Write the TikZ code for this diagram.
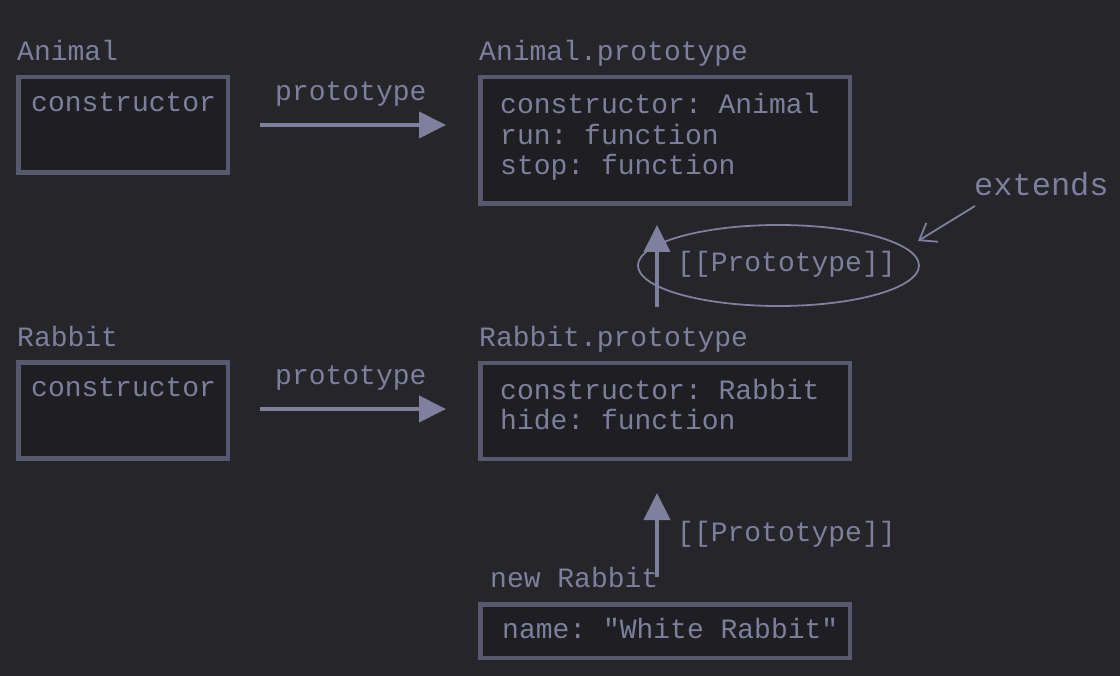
\documentclass[tikz,border=0pt]{standalone}
\usepackage{fontspec}
\setmonofont{Liberation Mono}
\usetikzlibrary{arrows.meta,shapes.geometric}
\definecolor{bg}{RGB}{37,37,42}
\definecolor{boxfill}{RGB}{31,31,35}
\definecolor{boxline}{RGB}{88,88,110}
\definecolor{txt}{RGB}{126,127,156}
\definecolor{arr}{RGB}{127,128,158}
\tikzset{
  box/.style={draw=boxline, fill=boxfill, line width=4.5pt, inner sep=0pt},
  lbl/.style={text=txt, anchor=base west, inner sep=0pt, font=\ttfamily\fontsize{28}{30}\selectfont},
  biglbl/.style={lbl, font=\ttfamily\fontsize{32}{34}\selectfont},
  bigarrow/.style={draw=arr, line width=4pt, -{Triangle[length=27pt,width=26pt]}},
  thinarrow/.style={draw=arr, line width=1.8pt, -{Straight Barb[length=15pt,width=22pt]}},
  ring/.style={draw=arr, line width=1.8pt, ellipse, inner sep=0pt}
}
\begin{document}
\begin{tikzpicture}[x=1pt,y=-1pt]
\fill[bg] (0,0) rectangle (1120,676);
\useasboundingbox (0,0) rectangle (1120,676);

% Animal row
\node[lbl] (lAnimal) at (17,61) {Animal};
\node[box, minimum width=209.5pt, minimum height=95.5pt] (b1) at (123,125) {};
\node[lbl] (t1) at (31,112) {constructor};
\node[lbl] (p1) at (275,101) {prototype};
\coordinate (a1s) at (260,125);
\coordinate (a1e) at (446,125);
\draw[bigarrow] (a1s) -- (a1e);

\node[lbl] (lAP) at (479,61) {Animal.prototype};
\node[box, minimum width=369.5pt, minimum height=126.5pt] (b2) at (665,140.5) {};
\node[lbl] (t2a) at (500,114) {constructor: Animal};
\node[lbl] (t2b) at (500,144.5) {run: function};
\node[lbl] (t2c) at (500,175) {stop: function};

% extends ellipse
\node[ring, minimum width=281pt, minimum height=81pt] (ell) at (778.5,265.5) {};
\node[lbl] (pp1) at (677,272) {[[Prototype]]};
\coordinate (v1s) at (657,307);
\coordinate (v1e) at (657,225);
\draw[bigarrow] (v1s) -- (v1e);
\node[biglbl] (ext) at (974,196) {extends};
\coordinate (e1s) at (975,206);
\coordinate (e1e) at (918,241);
\draw[thinarrow] (e1s) -- (e1e);

% Rabbit row
\node[lbl] (lRabbit) at (17,347) {Rabbit};
\node[box, minimum width=209.5pt, minimum height=95.5pt] (b3) at (123,410.5) {};
\node[lbl] (t3) at (31,397) {constructor};
\node[lbl] (p3) at (275,385) {prototype};
\coordinate (a3s) at (260,409);
\coordinate (a3e) at (446,409);
\draw[bigarrow] (a3s) -- (a3e);

\node[lbl] (lRP) at (479,347) {Rabbit.prototype};
\node[box, minimum width=369.5pt, minimum height=95.5pt] (b4) at (665,411) {};
\node[lbl] (t4a) at (500,400) {constructor: Rabbit};
\node[lbl] (t4b) at (500,430) {hide: function};

% new Rabbit
\coordinate (v2s) at (657,577);
\coordinate (v2e) at (657,493);
\draw[bigarrow] (v2s) -- (v2e);
\node[lbl] (pp2) at (677,541) {[[Prototype]]};
\node[lbl] (lNew) at (490,587) {new Rabbit};
\node[box, minimum width=369.5pt, minimum height=53.5pt] (b5) at (665,631) {};
\node[lbl] (t5) at (502,638) {name: "White Rabbit"};
\end{tikzpicture}
\end{document}
